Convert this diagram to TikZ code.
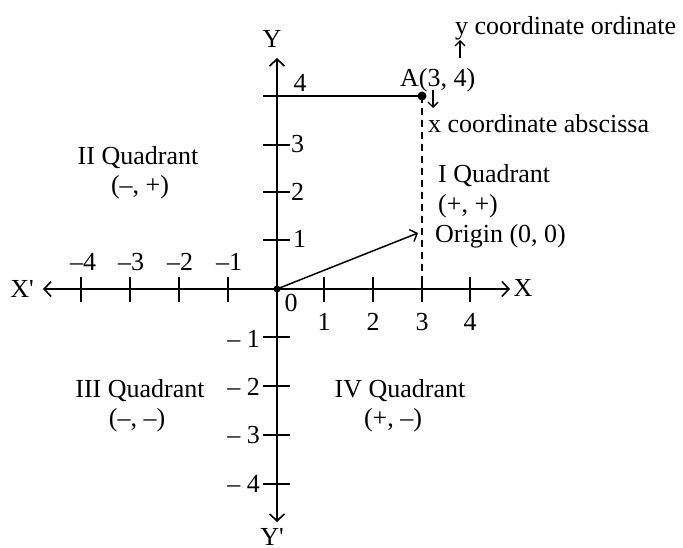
\documentclass[tikz,border=0pt]{standalone}
\usepackage{fontspec}
\setmainfont{Liberation Serif}[Ligatures=TeXOff]
\usetikzlibrary{arrows.meta}
\begin{document}
\begin{tikzpicture}[x=1pt,y=-1pt,
  lbl/.style={font=\fontsize{26}{30}\selectfont, inner sep=0pt},
  axis/.style={line width=1.7pt, -{Straight Barb[length=7pt,width=15pt,line width=1.6pt]}},
  vec/.style={line width=1.5pt, -{Straight Barb[length=6pt,width=13pt,line width=1.4pt]}},
  small/.style={line width=1.4pt, -{Straight Barb[length=5pt,width=10pt,line width=1.3pt]}},
  tick/.style={line width=1.5pt}]
\useasboundingbox (0,0) rectangle (683,548);
% key points
\coordinate (O) at (277,289);
\coordinate (Xr) at (510,289);
\coordinate (Xl) at (43,289);
\coordinate (Yt) at (277,58);
\coordinate (Yb) at (277,522);
\coordinate (A) at (422,96);
\coordinate (Ay) at (263,96);
\coordinate (Ax) at (422,289);
\coordinate (P) at (418,233);
\coordinate (d1) at (433,90);
\coordinate (d2) at (433,108);
\coordinate (u1) at (460,58);
\coordinate (u2) at (460,40);
% axes
\draw[axis] (O) -- (Xr);
\draw[axis] (O) -- (Xl);
\draw[axis] (O) -- (Yt);
\draw[axis] (O) -- (Yb);
% ticks
\foreach \x in {81,130,179,228,324,373,422,470}
  \draw[tick] (\x,277) -- (\x,302);
\foreach \y in {145,192,240,337,386,435,484}
  \draw[tick] (263,\y) -- (290,\y);
% point A
\draw[line width=1.5pt] (Ay) -- (A);
\draw[line width=1.3pt, dash pattern=on 7pt off 5pt] (A) -- (Ax);
\fill (A) circle (4.5);
\fill (O) circle (3.5);
\draw[vec] (O) -- (P);
\draw[small] (d1) -- (d2);
\draw[small] (u1) -- (u2);
% axis labels
\node[lbl,anchor=base] (Ylab) at (272,48) {Y};
\node[lbl,anchor=north] (Yplab) at (272,528) {Y'};
\node[lbl,anchor=base] (Xplab) at (22,298) {X'};
\node[lbl,anchor=base] (Xlab) at (523,297) {X};
% x tick labels
\node[lbl,anchor=base] (xm4) at (83,270) {–4};
\node[lbl,anchor=base] (xm3) at (131,270) {–3};
\node[lbl,anchor=base] (xm2) at (180,270) {–2};
\node[lbl,anchor=base] (xm1) at (229,270) {–1};
\node[lbl,anchor=base] (x0) at (291,312) {0};
\node[lbl,anchor=base] (x1) at (324,330) {1};
\node[lbl,anchor=base] (x2) at (373,330) {2};
\node[lbl,anchor=base] (x3) at (422,330) {3};
\node[lbl,anchor=base] (x4) at (470,330) {4};
% y tick labels
\node[lbl,anchor=base] (y4) at (300,92) {4};
\node[lbl,anchor=base west] (y3) at (291,153) {3};
\node[lbl,anchor=base west] (y2) at (291,201) {2};
\node[lbl,anchor=base west] (y1) at (293,248) {1};
\node[lbl,anchor=base east] (ym1) at (260,347) {– 1};
\node[lbl,anchor=base east] (ym2) at (260,395) {– 2};
\node[lbl,anchor=base east] (ym3) at (260,443) {– 3};
\node[lbl,anchor=base east] (ym4) at (260,492) {– 4};
% annotations
\node[lbl,anchor=base west] (Alab) at (400,87) {A(3, 4)};
\node[lbl,anchor=base west] (ord) at (455,35) {y coordinate ordinate};
\node[lbl,anchor=base west] (abs) at (428,133) {x coordinate abscissa};
% quadrants
\node[lbl,anchor=base] (q2) at (138,165) {II Quadrant};
\node[lbl,anchor=base] (q2s) at (140,194) {(–, +)};
\node[lbl,anchor=base west] (q1) at (438,183) {I Quadrant};
\node[lbl,anchor=base west] (q1s) at (438,213) {(+, +)};
\node[lbl,anchor=base west] (orig) at (435,243) {Origin (0, 0)};
\node[lbl,anchor=base] (q3) at (140,397) {III Quadrant};
\node[lbl,anchor=base] (q3s) at (137,426) {(–, –)};
\node[lbl,anchor=base] (q4) at (400,397) {IV Quadrant};
\node[lbl,anchor=base] (q4s) at (393,426) {(+, –)};
\end{tikzpicture}
\end{document}
